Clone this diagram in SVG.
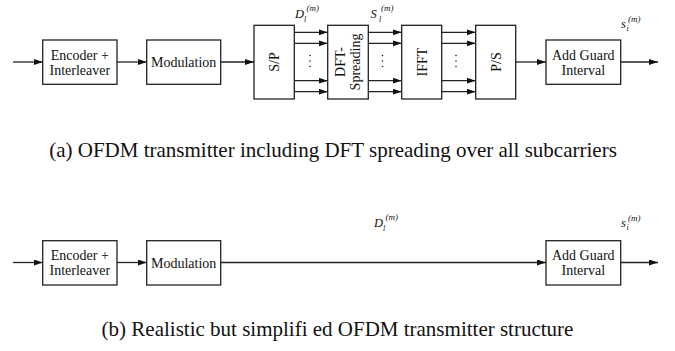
<svg xmlns="http://www.w3.org/2000/svg" width="675" height="351" viewBox="0 0 675 351">
<style>
.box{fill:#fff;stroke:#222;stroke-width:1.3}
.ln{fill:none;stroke:#222;stroke-width:1.3}
.arr{marker-end:url(#ah)}
text{font-family:'Liberation Serif','Times New Roman',serif}
.t{font-size:14px;fill:#111;text-anchor:middle}
.cap{font-size:21px;fill:#111;text-anchor:middle}
.m{font-style:italic;fill:#111}
.dot{fill:#222}
</style>
<defs>
<marker id="ah" markerUnits="userSpaceOnUse" markerWidth="10" markerHeight="7" refX="9" refY="3" orient="auto">
<path d="M0,0 L9,3 L0,6 z" fill="#111"/>
</marker>
</defs>
<rect width="675" height="351" fill="#fff"/>

<g id="connectors">
<line class="ln arr" x1="13" y1="62" x2="42.7" y2="62"/>
<line class="ln arr" x1="117" y1="62" x2="146.7" y2="62"/>
<line class="ln arr" x1="220.7" y1="62" x2="254" y2="62"/>
<line class="ln arr" x1="294.3" y1="32.3" x2="327.7" y2="32.3"/>
<line class="ln arr" x1="294.3" y1="43.3" x2="327.7" y2="43.3"/>
<line class="ln arr" x1="294.3" y1="80.7" x2="327.7" y2="80.7"/>
<line class="ln arr" x1="294.3" y1="91.7" x2="327.7" y2="91.7"/>
<line class="ln arr" x1="368.3" y1="32.3" x2="401.7" y2="32.3"/>
<line class="ln arr" x1="368.3" y1="43.3" x2="401.7" y2="43.3"/>
<line class="ln arr" x1="368.3" y1="80.7" x2="401.7" y2="80.7"/>
<line class="ln arr" x1="368.3" y1="91.7" x2="401.7" y2="91.7"/>
<line class="ln arr" x1="441.7" y1="32.3" x2="475.7" y2="32.3"/>
<line class="ln arr" x1="441.7" y1="43.3" x2="475.7" y2="43.3"/>
<line class="ln arr" x1="441.7" y1="80.7" x2="475.7" y2="80.7"/>
<line class="ln arr" x1="441.7" y1="91.7" x2="475.7" y2="91.7"/>
<line class="ln arr" x1="515.7" y1="62" x2="546" y2="62"/>
<line class="ln arr" x1="620.7" y1="62" x2="658" y2="62"/>
<circle class="dot" cx="310" cy="55.5" r="0.8"/><circle class="dot" cx="310" cy="61" r="0.8"/><circle class="dot" cx="310" cy="66.5" r="0.8"/>
<circle class="dot" cx="382.5" cy="55.5" r="0.8"/><circle class="dot" cx="382.5" cy="61" r="0.8"/><circle class="dot" cx="382.5" cy="66.5" r="0.8"/>
<circle class="dot" cx="456" cy="55.5" r="0.8"/><circle class="dot" cx="456" cy="61" r="0.8"/><circle class="dot" cx="456" cy="66.5" r="0.8"/>

<line class="ln arr" x1="13" y1="262.5" x2="42.7" y2="262.5"/>
<line class="ln arr" x1="117" y1="262.5" x2="146.7" y2="262.5"/>
<line class="ln arr" x1="220.7" y1="262.5" x2="546" y2="262.5"/>
<line class="ln arr" x1="620.7" y1="262.5" x2="658" y2="262.5"/>
</g>

<g id="labels">
<text class="m" x="295" y="18" font-size="12.5">D</text><text class="m" x="304" y="21.5" font-size="8">l</text><text class="m" x="306.5" y="11" font-size="9">(m)</text>
<text class="m" x="370.5" y="18" font-size="12.5">S</text><text class="m" x="379" y="21.5" font-size="8">l</text><text class="m" x="381" y="11" font-size="9">(m)</text>
<text class="m" x="621" y="28" font-size="12.5">s</text><text class="m" x="626.5" y="31" font-size="8">i</text><text class="m" x="628" y="22" font-size="9">(m)</text>
<text class="m" x="374" y="227" font-size="12.5">D</text><text class="m" x="383" y="230.5" font-size="8">l</text><text class="m" x="385.5" y="220" font-size="9">(m)</text>
<text class="m" x="621" y="227" font-size="12.5">s</text><text class="m" x="626.5" y="230" font-size="8">i</text><text class="m" x="628" y="221" font-size="9">(m)</text>
</g>

<g id="enc_a"><rect class="box" x="42.7" y="40" width="74.3" height="44.3"/><text class="t" x="79.8" y="59.5">Encoder +</text><text class="t" x="79.8" y="74.5">Interleaver</text></g>
<g id="mod_a"><rect class="box" x="146.7" y="40" width="74" height="44.3"/><text class="t" x="183.7" y="67">Modulation</text></g>
<g id="sp"><rect class="box" x="254" y="25.3" width="40.3" height="73.7"/><text class="t" transform="translate(279,62) rotate(-90)">S/P</text></g>
<g id="dft"><rect class="box" x="327.7" y="25.3" width="40.6" height="73.7"/><text class="t" transform="translate(345,62) rotate(-90)">DFT-</text><text class="t" transform="translate(359.5,62) rotate(-90)">Spreading</text></g>
<g id="ifft"><rect class="box" x="401.7" y="25.3" width="40" height="73.7"/><text class="t" transform="translate(426.5,62) rotate(-90)">IFFT</text></g>
<g id="ps"><rect class="box" x="475.7" y="25.3" width="40" height="73.7"/><text class="t" transform="translate(500.5,62) rotate(-90)">P/S</text></g>
<g id="guard_a"><rect class="box" x="546" y="40" width="74.7" height="44.3"/><text class="t" x="583.3" y="59.5">Add Guard</text><text class="t" x="583.3" y="74.5">Interval</text></g>

<g id="enc_b"><rect class="box" x="42.7" y="240.7" width="74.3" height="44.3"/><text class="t" x="79.8" y="260">Encoder +</text><text class="t" x="79.8" y="275">Interleaver</text></g>
<g id="mod_b"><rect class="box" x="146.7" y="240.7" width="74" height="44.3"/><text class="t" x="183.7" y="267.5">Modulation</text></g>
<g id="guard_b"><rect class="box" x="546" y="240.7" width="74.7" height="44.3"/><text class="t" x="583.3" y="260">Add Guard</text><text class="t" x="583.3" y="275">Interval</text></g>

<text class="cap" x="333" y="157">(a) OFDM transmitter including DFT spreading over all subcarriers</text>
<text class="cap" x="337.5" y="336">(b) Realistic but simplifi ed OFDM transmitter structure</text>
</svg>
